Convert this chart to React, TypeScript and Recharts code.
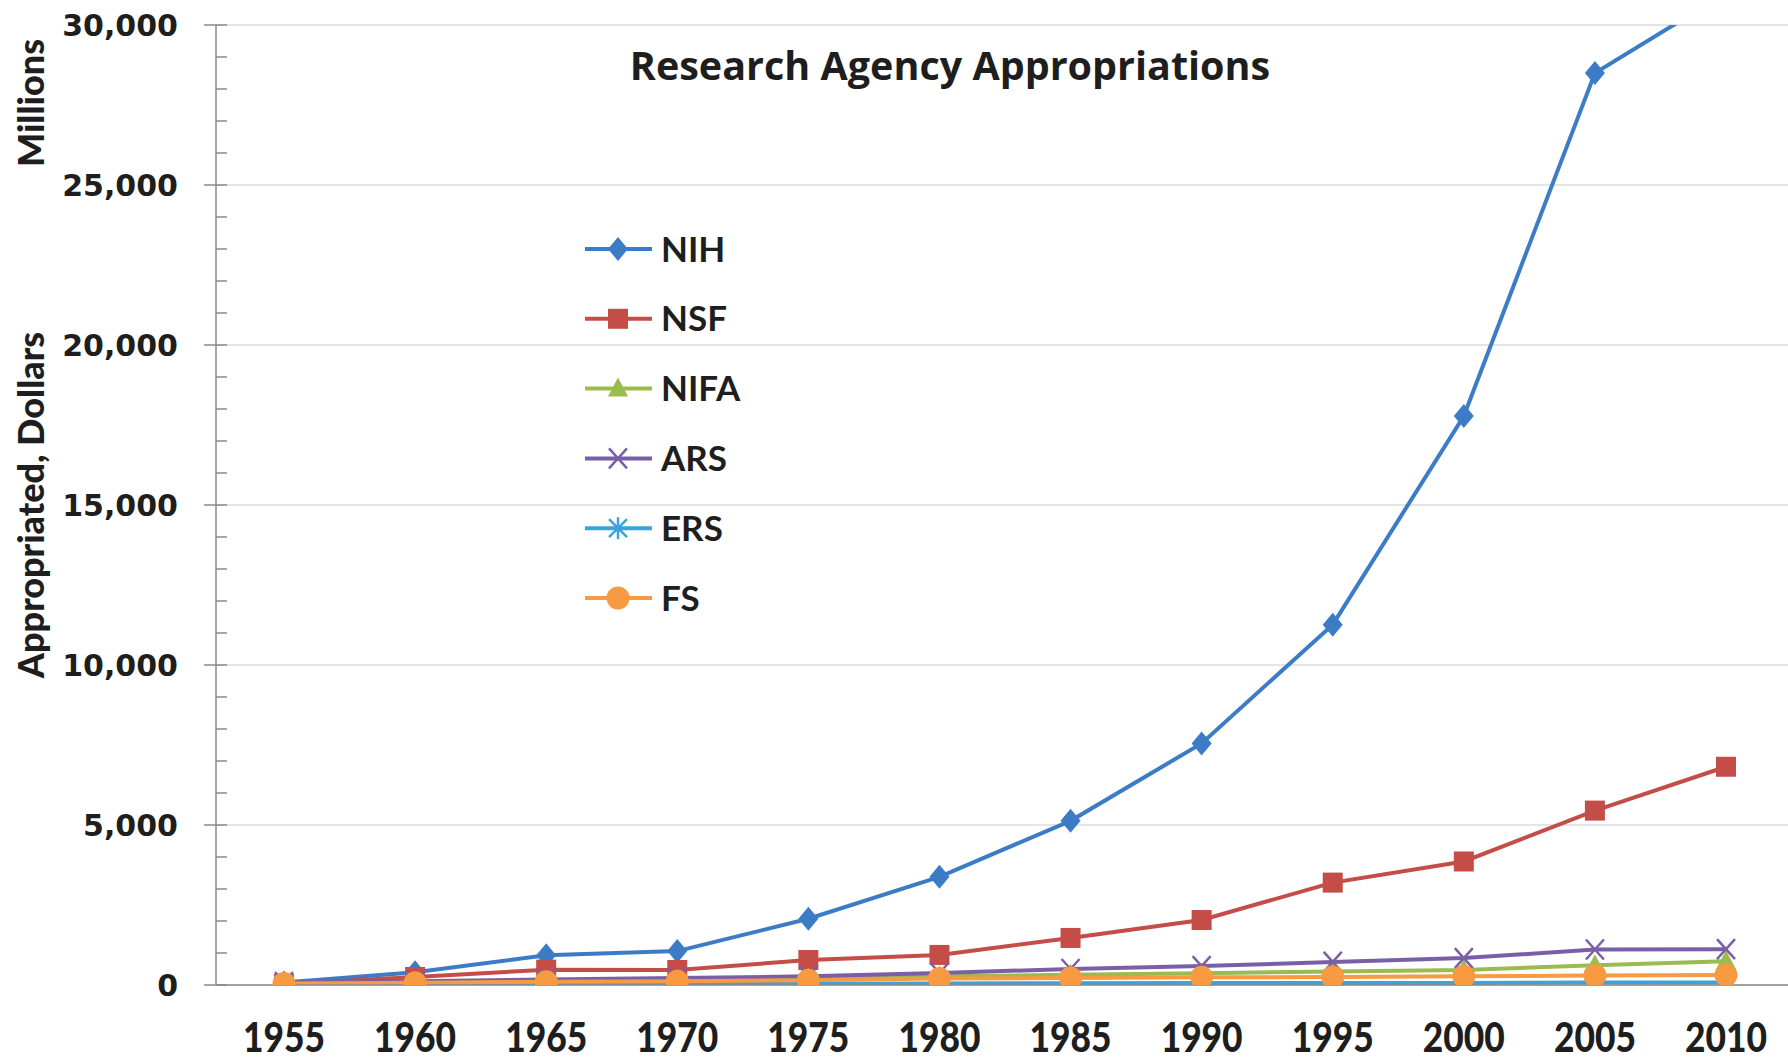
import { LineChart, Line, XAxis, YAxis, CartesianGrid, Legend } from 'recharts';

const YEARS = [1955, 1960, 1965, 1970, 1975, 1980, 1985, 1990, 1995, 2000, 2005, 2010];

// appropriations, millions of dollars
const NIH = [80, 400, 930, 1060, 2070, 3380, 5130, 7550, 11260, 17780, 28500, 31000];
const NSF = [30, 250, 480, 470, 780, 940, 1470, 2030, 3200, 3860, 5450, 6820];
const NIFA = [60, 80, 120, 160, 200, 270, 320, 370, 420, 470, 620, 740];
const ARS = [90, 120, 170, 220, 270, 375, 500, 590, 720, 840, 1110, 1120];
const ERS = [10, 15, 20, 30, 40, 50, 55, 60, 60, 65, 75, 80];
const FS = [50, 70, 100, 120, 150, 200, 220, 240, 250, 270, 300, 310];

const Y_LABEL_TICKS = [0, 5000, 10000, 15000, 20000, 25000, 30000];
const Y_MINOR_STEP = 1000;
const Y_MAX = 30000;

type Shape = 'diamond' | 'square' | 'triangle' | 'x' | 'star' | 'circle';

const SERIES: { key: string; values: number[]; color: string; shape: Shape }[] = [
  { key: 'NIH', values: NIH, color: '#3c7cc6', shape: 'diamond' },
  { key: 'NSF', values: NSF, color: '#c44d48', shape: 'square' },
  { key: 'NIFA', values: NIFA, color: '#9bbb4e', shape: 'triangle' },
  { key: 'ARS', values: ARS, color: '#7a5fa6', shape: 'x' },
  { key: 'ERS', values: ERS, color: '#3aa3dc', shape: 'star' },
  { key: 'FS', values: FS, color: '#f79a42', shape: 'circle' },
];

const data = YEARS.map((year, i) => {
  const row: Record<string, number> = { year };
  SERIES.forEach((s) => (row[s.key] = s.values[i]));
  return row;
});

const yTicks: number[] = [];
for (let v = 0; v <= Y_MAX; v += Y_MINOR_STEP) yTicks.push(v);

const TEXT = '#1e1e1e';
const AXIS = '#8a8a8a';

function Marker({ shape, cx, cy, color }: { shape: Shape; cx: number; cy: number; color: string }) {
  if (cx == null || cy == null || isNaN(cx) || isNaN(cy)) return null;
  switch (shape) {
    case 'diamond':
      return <path d={`M${cx},${cy - 12}L${cx + 10},${cy}L${cx},${cy + 12}L${cx - 10},${cy}Z`} fill={color} />;
    case 'square':
      return <rect x={cx - 10} y={cy - 10} width={20} height={20} fill={color} />;
    case 'triangle':
      return <path d={`M${cx},${cy - 11}L${cx + 10},${cy + 8}L${cx - 10},${cy + 8}Z`} fill={color} />;
    case 'x':
      return (
        <path d={`M${cx - 9},${cy - 10}L${cx + 9},${cy + 10}M${cx + 9},${cy - 10}L${cx - 9},${cy + 10}`} stroke={color} strokeWidth={2.5} />
      );
    case 'star':
      return (
        <path
          d={`M${cx - 9},${cy - 9}L${cx + 9},${cy + 9}M${cx + 9},${cy - 9}L${cx - 9},${cy + 9}M${cx},${cy - 11}L${cx},${cy + 11}`}
          stroke={color}
          strokeWidth={2.5}
        />
      );
    default:
      return <circle cx={cx} cy={cy} r={11.5} fill={color} />;
  }
}

function YTick(props: any) {
  const { y, payload } = props;
  const v = payload.value as number;
  const major = v % 5000 === 0;
  return (
    <g>
      <line x1={major ? 204 : 216} x2={227} y1={y} y2={y} stroke={AXIS} strokeWidth={1.5} />
      {major && (
        <text x={178} y={y} dy="0.36em" textAnchor="end" fontFamily="'DejaVu Sans', sans-serif" fontWeight="bold" fontSize={30} fill={TEXT}>
          {v.toLocaleString('en-US')}
        </text>
      )}
    </g>
  );
}

function XTick(props: any) {
  const { x, payload } = props;
  return (
    <text
      x={x}
      y={1052}
      textAnchor="middle"
      fontFamily="Lato, sans-serif"
      fontWeight={900}
      fontSize={41}
      textLength={82}
      lengthAdjust="spacingAndGlyphs"
      fill={TEXT}
    >
      {payload.value}
    </text>
  );
}

function LegendBox() {
  return (
    <svg width={220} height={430}>
      {SERIES.map((s, i) => {
        const y = 24 + i * 69.8;
        return (
          <g key={s.key}>
            <line x1={5} x2={72} y1={y} y2={y} stroke={s.color} strokeWidth={4} />
            <Marker shape={s.shape} cx={38} cy={y} color={s.color} />
            <text x={81} y={y} dy="0.36em" fontFamily="Lato, sans-serif" fontWeight="bold" fontSize={35} fill={TEXT}>
              {s.key}
            </text>
          </g>
        );
      })}
    </svg>
  );
}

const rotated = (top: number): React.CSSProperties => ({
  position: 'absolute',
  left: 30,
  top,
  transform: 'translate(-50%, -50%) rotate(-90deg)',
  fontFamily: 'Lato, sans-serif',
  fontWeight: 900,
  fontSize: 36,
  lineHeight: 1,
  color: TEXT,
  whiteSpace: 'nowrap',
});

export default function App() {
  return (
    <div style={{ position: 'relative', width: 1788, height: 1062, background: '#fff', overflow: 'hidden' }}>
      <style>{`body { margin: 0; }`}</style>
      <LineChart width={1788} height={1062} data={data} margin={{ top: 25, right: 0, bottom: 0, left: 0 }}>
        <CartesianGrid vertical={false} stroke="#dcdcdc" strokeWidth={1.5} horizontalValues={Y_LABEL_TICKS} />
        <XAxis
          dataKey="year"
          height={77}
          padding={{ left: 68, right: 62 }}
          axisLine={{ stroke: AXIS, strokeWidth: 1.5 }}
          tickLine={false}
          tick={<XTick />}
          interval={0}
        />
        <YAxis
          width={216}
          domain={[0, Y_MAX]}
          allowDataOverflow
          ticks={yTicks}
          interval={0}
          axisLine={{ stroke: AXIS, strokeWidth: 1.5 }}
          tickLine={false}
          tick={<YTick />}
        />
        <Legend
          layout="vertical"
          align="center"
          verticalAlign="middle"
          wrapperStyle={{ left: 580, top: 225, width: 220 }}
          content={() => <LegendBox />}
        />
        {SERIES.map((s) => (
          <Line
            key={s.key}
            dataKey={s.key}
            type="linear"
            stroke={s.color}
            strokeWidth={4}
            isAnimationActive={false}
            dot={(p: any) => <Marker key={`${s.key}-${p.index}`} shape={s.shape} cx={p.cx} cy={p.cy} color={s.color} />}
            activeDot={false}
          />
        ))}
      </LineChart>
      <div
        style={{
          position: 'absolute',
          left: 950,
          top: 66,
          transform: 'translate(-50%, -50%)',
          fontFamily: "'Open Sans', sans-serif",
          fontWeight: 'bold',
          fontSize: 39.5,
          lineHeight: 1,
          color: TEXT,
          whiteSpace: 'nowrap',
        }}
      >
        Research Agency Appropriations
      </div>
      <div style={rotated(505)}>Appropriated, Dollars</div>
      <div style={rotated(103)}>Millions</div>
    </div>
  );
}
